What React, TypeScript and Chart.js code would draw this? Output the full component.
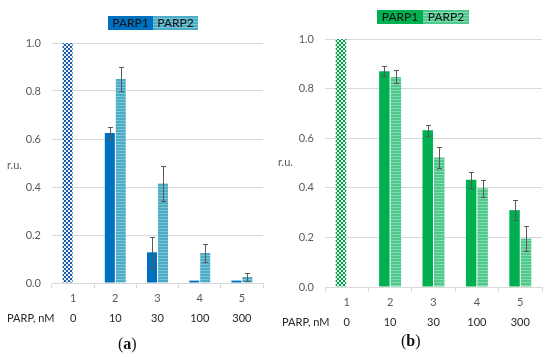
import React, { useEffect, useRef } from "react";
import { Chart, registerables } from "chart.js";

Chart.register(...registerables);

const categories = ["1", "2", "3", "4", "5"];
const concentrations = ["0", "10", "30", "100", "300"];
const seriesNames = ["PARP1", "PARP2"];

// Panel (a)
const aParp1 = [1.0, 0.625, 0.128, 0.01, 0.01];
const aParp2 = [null, 0.85, 0.415, 0.125, 0.025];
const aParp1Err = [0, 0.027, 0.065, 0, 0];
const aParp2Err = [0, 0.052, 0.072, 0.037, 0.017];

// Panel (b)
const bParp1 = [1.0, 0.87, 0.632, 0.432, 0.31];
const bParp2 = [null, 0.847, 0.522, 0.398, 0.195];
const bParp1Err = [0, 0.02, 0.022, 0.033, 0.04];
const bParp2Err = [0, 0.026, 0.043, 0.035, 0.05];

const yTicks = [0, 0.2, 0.4, 0.6, 0.8, 1.0];

const FONT = "Lato, 'Open Sans', sans-serif";

function makeChecker(c1: string, c2: string) {
  const c = document.createElement("canvas");
  c.width = 4;
  c.height = 4;
  const g = c.getContext("2d")!;
  g.fillStyle = c2;
  g.fillRect(0, 0, 4, 4);
  g.fillStyle = c1;
  g.fillRect(0, 0, 2, 2);
  g.fillRect(2, 2, 2, 2);
  return g.createPattern(c, "repeat")!;
}

function makeStripes(base: string, line: string) {
  const c = document.createElement("canvas");
  c.width = 4;
  c.height = 3;
  const g = c.getContext("2d")!;
  g.fillStyle = base;
  g.fillRect(0, 0, 4, 3);
  g.fillStyle = line;
  g.fillRect(0, 0, 4, 1);
  return g.createPattern(c, "repeat")!;
}

type PanelProps = {
  left: number;
  p1: (number | null)[];
  p2: (number | null)[];
  e1: number[];
  e2: number[];
  solid: string;
  checkA: string;
  checkB: string;
  stripeBase: string;
  stripeLine: string;
  legendBox: [number, number, number, number];
  layout: { yWidth: number; right: number; top: number; xHeight: number };
  ruPos: [number, number];
  letter: string;
  letterPos: [number, number];
  catPct: number;
};

function Panel(props: PanelProps) {
  const ref = useRef<HTMLCanvasElement | null>(null);
  useEffect(() => {
    const canvas = ref.current!;
    const checker = makeChecker(props.checkA, props.checkB);
    const stripes = makeStripes(props.stripeBase, props.stripeLine);

    const errPlugin = {
      id: "errbars",
      afterDatasetsDraw(chart: any) {
        const ctx = chart.ctx;
        const ys = chart.scales.y;
        const errs = [props.e1, props.e2];
        const vals = [props.p1, props.p2];
        ctx.save();
        ctx.strokeStyle = "#595959";
        ctx.lineWidth = 1;
        for (let d = 0; d < 2; d++) {
          const meta = chart.getDatasetMeta(d);
          meta.data.forEach((el: any, i: number) => {
            const v = vals[d][i];
            const e = errs[d][i];
            if (v == null || !e) return;
            const x = Math.round(el.x) + 0.5;
            const yt = Math.round(ys.getPixelForValue(v + e)) + 0.5;
            const yb = Math.round(ys.getPixelForValue(v - e)) + 0.5;
            ctx.beginPath();
            ctx.moveTo(x, yt);
            ctx.lineTo(x, yb);
            ctx.moveTo(x - 2.5, yt);
            ctx.lineTo(x + 2.5, yt);
            ctx.moveTo(x - 2.5, yb);
            ctx.lineTo(x + 2.5, yb);
            ctx.stroke();
          });
        }
        ctx.restore();
      },
    };

    const textPlugin = {
      id: "texts",
      afterDraw(chart: any) {
        const ctx = chart.ctx;
        const xs = chart.scales.x;
        const bottom = chart.chartArea.bottom;
        ctx.save();
        ctx.font = `11px ${FONT}`;
        ctx.fillStyle = "#262626";
        ctx.textBaseline = "middle";
        ctx.textAlign = "left";
        ctx.fillText("PARP, nM", 7, bottom + 35);
        ctx.textAlign = "center";
        concentrations.forEach((c, i) => {
          ctx.fillText(c, xs.getPixelForValue(i), bottom + 35);
        });
        ctx.font = `11px ${FONT}`;
        ctx.fillStyle = "#595959";
        ctx.textAlign = "left";
        ctx.fillText("r.u.", props.ruPos[0], props.ruPos[1]);
        const [lx, ly, lw, lh] = props.legendBox;
        ctx.fillStyle = props.solid;
        ctx.fillRect(lx, ly, lw, lh);
        ctx.fillStyle = stripes;
        ctx.fillRect(lx + lw, ly, lw, lh);
        ctx.font = `12px ${FONT}`;
        ctx.fillStyle = "#111";
        ctx.textAlign = "center";
        ctx.fillText(seriesNames[0], lx + lw / 2, ly + lh / 2 + 0.5);
        ctx.fillText(seriesNames[1], lx + lw * 1.5, ly + lh / 2 + 0.5);
        ctx.font = `16px 'Liberation Serif', serif`;
        ctx.fillStyle = "#111";
        ctx.textAlign = "left";
        const [tx, ty] = props.letterPos;
        const w1 = ctx.measureText("(").width;
        ctx.fillText("(", tx, ty);
        ctx.font = `bold 16px 'Liberation Serif', serif`;
        const w2 = ctx.measureText(props.letter).width;
        ctx.fillText(props.letter, tx + w1, ty);
        ctx.font = `16px 'Liberation Serif', serif`;
        ctx.fillText(")", tx + w1 + w2, ty);
        ctx.restore();
      },
    };

    const chart = new Chart(canvas, {
      type: "bar",
      data: {
        labels: categories,
        datasets: [
          {
            label: seriesNames[0],
            data: props.p1,
            backgroundColor: props.p1.map((_, i) => (i === 0 ? checker : props.solid)),
            categoryPercentage: props.catPct,
            barPercentage: 0.91,
          },
          {
            label: seriesNames[1],
            data: props.p2,
            backgroundColor: stripes,
            categoryPercentage: props.catPct,
            barPercentage: 0.91,
          },
        ] as any,
      },
      options: {
        animation: false,
        responsive: false,
        layout: {
          padding: { left: 0, right: props.layout.right, top: props.layout.top, bottom: 0 },
        },
        plugins: { legend: { display: false }, tooltip: { enabled: false } },
        scales: {
          x: {
            offset: true,
            grid: {
              offset: true,
              drawOnChartArea: false,
              drawTicks: true,
              tickLength: 5,
              color: "#d9d9d9",
            },
            border: { display: true, color: "#d9d9d9" },
            ticks: {
              color: "#595959",
              font: { size: 11, family: FONT },
              padding: 4,
            },
            afterFit: (s: any) => {
              s.height = props.layout.xHeight;
            },
          },
          y: {
            min: 0,
            max: 1,
            afterBuildTicks: (s: any) => {
              s.ticks = yTicks.map((v) => ({ value: v }));
            },
            grid: { color: "#d9d9d9", drawTicks: false },
            border: { display: false },
            ticks: {
              color: "#595959",
              font: { size: 11, family: FONT },
              padding: 11,
              callback: (v: any) => Number(v).toFixed(1),
            },
            afterFit: (s: any) => {
              s.width = props.layout.yWidth;
            },
          },
        },
      },
      plugins: [errPlugin, textPlugin],
    });
    return () => chart.destroy();
  }, []);
  return (
    <canvas
      ref={ref}
      width={275}
      height={357}
      style={{ position: "absolute", left: props.left, top: 0, width: 275, height: 357 }}
    />
  );
}

export default function App() {
  return (
    <div style={{ position: "absolute", left: 0, top: 0, width: 550, height: 357, background: "#fff" }}>
      <Panel
        left={0}
        p1={aParp1}
        p2={aParp2}
        e1={aParp1Err}
        e2={aParp2Err}
        solid="#0070C0"
        checkA="#1F5FAA"
        checkB="#E8EEF7"
        stripeBase="#4BACC6"
        stripeLine="#7EC3D6"
        legendBox={[108, 16, 45, 14]}
        layout={{ yWidth: 52, right: 12, top: 43, xHeight: 74 }}
        ruPos={[7, 165]}
        letter="a"
        letterPos={[118, 345]}
        catPct={0.52}
      />
      <Panel
        left={275}
        p1={bParp1}
        p2={bParp2}
        e1={bParp1Err}
        e2={bParp2Err}
        solid="#00B050"
        checkA="#00A04A"
        checkB="#E6F6EC"
        stripeBase="#4CC98B"
        stripeLine="#86DAB1"
        legendBox={[102, 10, 46, 14]}
        layout={{ yWidth: 50, right: 8, top: 39, xHeight: 70 }}
        ruPos={[3, 162]}
        letter="b"
        letterPos={[126, 342]}
        catPct={0.53}
      />
    </div>
  );
}
